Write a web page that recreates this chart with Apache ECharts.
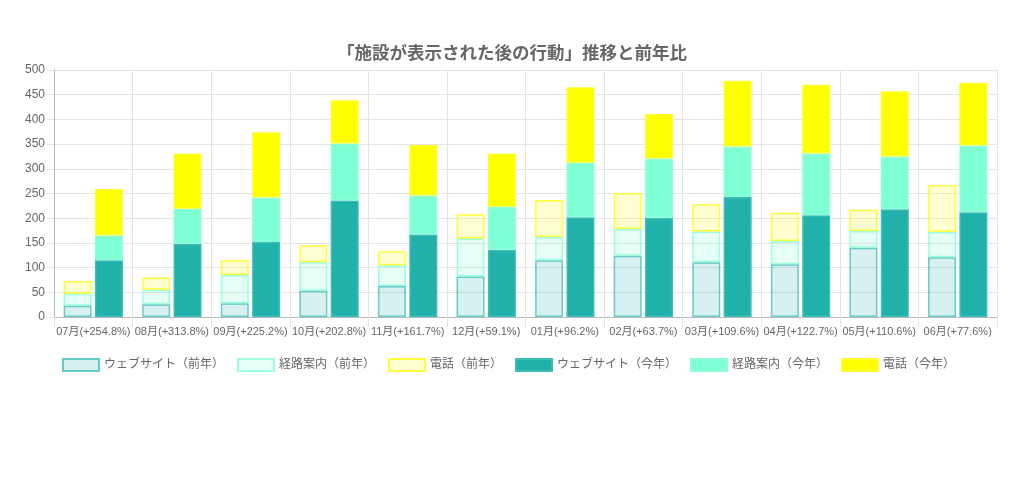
<!DOCTYPE html>
<html>
<head>
<meta charset="utf-8">
<script src="https://cdn.jsdelivr.net/npm/echarts@6/dist/echarts.min.js"></script>
<style>
html,body{margin:0;padding:0;background:#fff;}
#chart{width:1024px;height:489px;}
</style>
</head>
<body>
<div id="chart"></div>
<script>
const categories = ['07月(+254.8%)','08月(+313.8%)','09月(+225.2%)','10月(+202.8%)','11月(+161.7%)','12月(+59.1%)','01月(+96.2%)','02月(+63.7%)','03月(+109.6%)','04月(+122.7%)','05月(+110.6%)','06月(+77.6%)'];
const webPrev   = [23, 26, 28, 53, 63, 82, 115, 124, 111, 107, 140, 121];
const routePrev = [24, 29, 57, 58, 42, 77, 47, 54, 62, 47, 34, 51];
const phonePrev = [26, 25, 30, 34, 28, 49, 75, 73, 55, 57, 43, 95];
const webCur    = [115, 148, 152, 236, 167, 136, 202, 201, 243, 206, 218, 212];
const routeCur  = [50, 71, 90, 115, 79, 87, 110, 120, 102, 125, 107, 135];
const phoneCur  = [94, 112, 132, 88, 102, 108, 153, 90, 133, 139, 132, 127];
const yTicks = {min: 0, max: 500, interval: 50};

const FONT = "'Liberation Sans','Noto Sans CJK JP',sans-serif";
const chart = echarts.init(document.getElementById('chart'));

function s(name, data, stack, fill, border) {
  return {
    name, type: 'bar', stack, data,
    barWidth: 28, barGap: '12%',
    itemStyle: {color: fill, borderColor: border, borderWidth: 1.5},
    emphasis: {disabled: true}
  };
}

chart.setOption({
  animation: false,
  title: {
    text: '「施設が表示された後の行動」推移と前年比',
    left: 'center', top: 40,
    textStyle: {fontFamily: FONT, fontSize: 17.5, fontWeight: 'bold', color: '#666'}
  },
  legend: {
    top: 353, left: 57, icon: 'rect',
    itemWidth: 36, itemHeight: 12, itemGap: 13,
    textStyle: {fontFamily: FONT, fontSize: 12, color: '#666'},
    data: ['ウェブサイト（前年）','経路案内（前年）','電話（前年）','ウェブサイト（今年）','経路案内（今年）','電話（今年）']
  },
  grid: {left: 54, right: 27, top: 70, bottom: 172, containLabel: false},
  xAxis: {
    type: 'category', data: categories,
    axisLine: {lineStyle: {color: '#bbb'}},
    axisTick: {show: true, length: 10, lineStyle: {color: '#e4e4e4'}},
    splitLine: {show: true, lineStyle: {color: '#e4e4e4'}},
    axisLabel: {fontFamily: FONT, fontSize: 11, color: '#666', margin: 9, interval: 0}
  },
  yAxis: {
    type: 'value', min: yTicks.min, max: yTicks.max, interval: yTicks.interval,
    axisLine: {show: true, lineStyle: {color: '#bbb'}},
    axisTick: {show: true, length: 7, lineStyle: {color: '#e4e4e4'}},
    splitLine: {show: true, lineStyle: {color: '#e4e4e4'}},
    axisLabel: {fontFamily: FONT, fontSize: 12, color: '#666', margin: 9}
  },
  series: [
    s('ウェブサイト（前年）', webPrev, 'prev', 'rgba(32,178,170,0.18)', 'rgba(32,178,170,0.65)'),
    s('経路案内（前年）', routePrev, 'prev', 'rgba(127,255,212,0.2)', 'rgba(127,255,212,0.75)'),
    s('電話（前年）', phonePrev, 'prev', 'rgba(255,255,0,0.18)', 'rgba(255,255,0,0.75)'),
    s('ウェブサイト（今年）', webCur, 'cur', '#20b2aa', '#3cbdb5'),
    s('経路案内（今年）', routeCur, 'cur', '#7fffd4', '#8fffda'),
    s('電話（今年）', phoneCur, 'cur', '#ffff00', '#ffff30')
  ]
});
</script>
</body>
</html>
